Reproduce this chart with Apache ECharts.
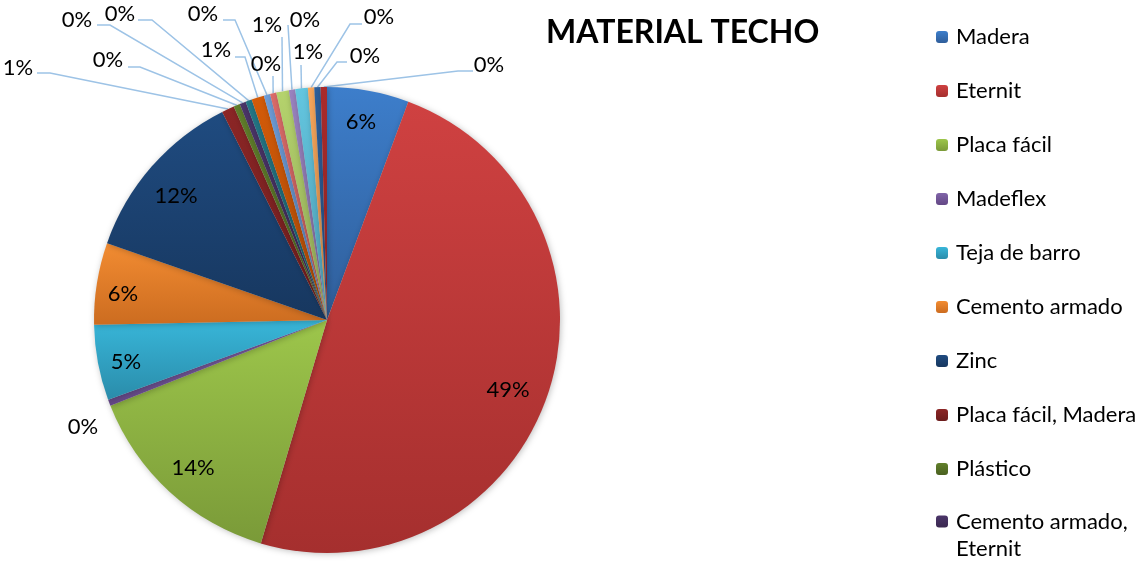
<!DOCTYPE html>
<html>
<head>
<meta charset="utf-8">
<script src="https://cdn.jsdelivr.net/npm/echarts@6/dist/echarts.min.js"></script>
<style>
  html, body { margin: 0; padding: 0; background: #fff; }
  #chart { width: 1141px; height: 561px; }
</style>
</head>
<body>
<div id="chart"></div>
<script>
// datos (conteo de viviendas por material de techo)
const categories = [
  "Madera", "Eternit", "Placa fácil", "Madeflex", "Teja de barro",
  "Cemento armado", "Zinc", "Placa fácil, Madera", "Plástico", "Cemento armado, Eternit",
  "Otro 11", "Otro 12", "Otro 13", "Otro 14", "Otro 15",
  "Otro 16", "Otro 17", "Otro 18", "Otro 19", "Otro 20"
];
const counts = [13, 112, 33, 1, 12, 13, 28, 2, 1, 1, 1, 2, 1, 1, 2, 1, 2, 1, 1, 1];
const legendNames = categories.slice(0, 10);

// paleta (arriba -> abajo, degradado de cada sector)
const colorsTop = [
  "#3d7ecb", "#cf4141", "#9dc64b", "#8064a8", "#38b6d9",
  "#f28c32", "#1f4b80", "#8c2626", "#61802b", "#4b3569",
  "#247887", "#d45b09", "#6e9dd8", "#dc6c6a", "#b5d36d",
  "#9a83c0", "#63c6e0", "#f9a75b", "#2d5f9b", "#aa2b2b"
];
const colorsBottom = [
  "#2f5e9a", "#a52f2e", "#7a9a38", "#634785", "#2a8caa",
  "#cc6c20", "#17375f", "#6b1c1c", "#4a6020", "#3a2850",
  "#1b5b66", "#a54706", "#5479a9", "#af5452", "#8fa656",
  "#7a6796", "#4e9bb0", "#c98548", "#224876", "#842121"
];

const CX = 327, CY = 320, R = 233;
const total = counts.reduce((a, b) => a + b, 0);

// posiciones de etiquetas: [x, y] o [x, y, finX, finY, codoX, codoY] con línea guía
const labelPos = {
  0: [361, 122],
  1: [508, 390],
  2: [193, 468],
  3: [83, 427],
  4: [126, 362],
  5: [123, 294],
  6: [176, 196],
  7: [18, 68, 37, 73, 50, 73],
  8: [108, 60, 128, 67, 140, 67],
  9: [77, 20, 97, 25, 110, 25],
  10: [120, 14, 138, 20, 152, 20],
  11: [216, 50, 235, 57, 245, 57],
  12: [203, 14, 223, 20, 235, 20],
  13: [266, 64, 273, 76, 273, 76],
  14: [267, 25, 282, 37, 282, 37],
  15: [305, 20, 288, 25, 288, 25],
  16: [308, 52, 301, 65, 301, 65],
  17: [379, 17, 362, 24, 350, 24],
  18: [365, 56, 347, 62, 337, 62],
  19: [489, 65, 473, 71, 458, 71]
};

function midAngle(i) {
  let s = 0;
  for (let k = 0; k < i; k++) s += counts[k];
  return (s + counts[i] / 2) / total * 2 * Math.PI;
}

const seriesData = categories.map((name, i) => {
  const o = labelPos[i];
  return {
    name: name,
    value: counts[i],
    itemStyle: {
      color: {
        type: "linear", x: 0, y: 0, x2: 0, y2: 1,
        colorStops: [
          { offset: 0, color: colorsTop[i] },
          { offset: 1, color: colorsBottom[i] }
        ]
      }
    },
    labelLine: { show: !!(o && o.length > 2) }
  };
});

const chart = echarts.init(document.getElementById("chart"));

const legendText = {
  fontFamily: "Lato",
  fontSize: 22,
  lineHeight: 27,
  color: "#000",
  padding: [0, 0, 0, 3]
};

chart.setOption({
  animation: false,
  title: {
    text: "MATERIAL TECHO",
    left: 546,
    top: 17,
    padding: 0,
    textStyle: {
      fontFamily: "Lato",
      fontWeight: "bold",
      fontSize: 32,
      color: "#000"
    }
  },
  legend: [
    {
      orient: "vertical",
      left: 936,
      top: 23.5,
      padding: 0,
      itemWidth: 12,
      itemHeight: 12,
      itemGap: 27,
      selectedMode: false,
      data: legendNames.slice(0, 9),
      textStyle: legendText
    },
    {
      orient: "vertical",
      left: 936,
      top: 481,
      padding: 0,
      itemWidth: 12,
      itemHeight: 12,
      selectedMode: false,
      data: legendNames.slice(9),
      // línea en blanco arriba para que la primera línea quede junto al icono
      formatter: (name) => "\n" + name.replace(", ", ",\n"),
      textStyle: legendText
    }
  ],
  series: [
    {
      type: "pie",
      center: [CX, CY],
      radius: R,
      startAngle: 90,
      clockwise: true,
      avoidLabelOverlap: false,
      silent: true,
      itemStyle: {
        shadowBlur: 6,
        shadowColor: "rgba(0,0,0,0.25)",
        shadowOffsetX: 1,
        shadowOffsetY: 1
      },
      label: {
        show: true,
        position: "outside",
        fontFamily: "Lato",
        fontSize: 22,
        color: "#000",
        formatter: (p) => Math.round(p.percent) + "%"
      },
      labelLine: {
        show: true,
        lineStyle: { color: "#9dc3e6", width: 1.5 }
      },
      labelLayout: function (p) {
        const i = p.dataIndex;
        const a = midAngle(i);
        const o = labelPos[i];
        const res = { x: o[0], y: o[1], align: "center", verticalAlign: "middle" };
        if (o.length > 2) {
          res.labelLinePoints = [
            [CX + R * Math.sin(a), CY - R * Math.cos(a)],
            [o[4], o[5]],
            [o[2], o[3]]
          ];
        }
        return res;
      },
      data: seriesData
    }
  ]
});
</script>
</body>
</html>
